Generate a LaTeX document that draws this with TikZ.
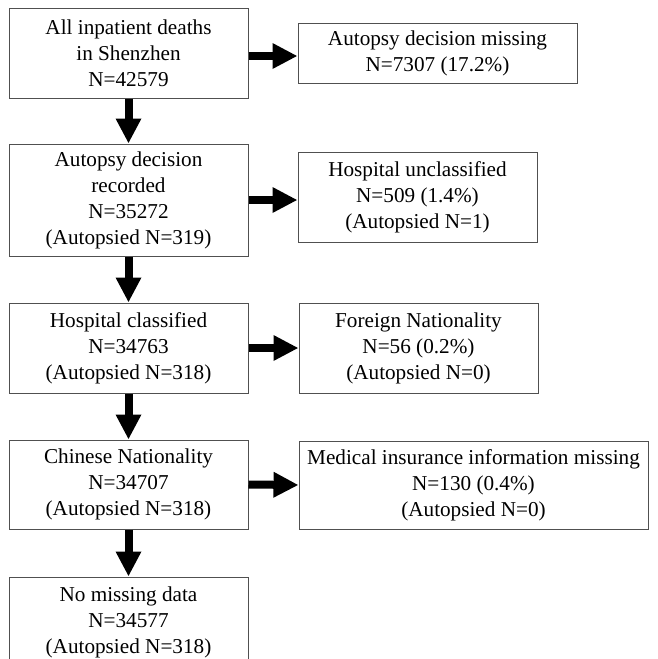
\documentclass[tikz,border=0pt]{standalone}
\usepackage{fontspec}
\setmainfont{Liberation Serif}
\usetikzlibrary{arrows.meta}
\definecolor{boxline}{RGB}{80,80,80}
\tikzset{
  box/.style={draw=boxline, line width=1pt, fill=white, inner sep=0pt, align=center,
    font=\fontsize{21.2}{26}\selectfont, minimum width=239pt, minimum height=90pt,
    execute at begin node={\rule{0pt}{21.5pt}}},
  fatarrow/.style={line width=8pt, -{Triangle[length=25pt,width=24pt]}}
}
\begin{document}
\begin{tikzpicture}[x=1pt,y=-1pt]
\useasboundingbox (0,0) rectangle (657,659);
\clip (0,0) rectangle (657,659);
\node[box] (b1) at (128.5,53) {All inpatient deaths\\in Shenzhen\\N=42579};
\node[box, minimum height=112pt] (b2) at (128.5,200) {Autopsy decision\\recorded\\N=35272\\(Autopsied N=319)};
\node[box] (b3) at (128.5,348) {Hospital classified\\N=34763\\(Autopsied N=318)};
\node[box, minimum height=89pt] (b4) at (128.5,484.5) {Chinese Nationality\\N=34707\\(Autopsied N=318)};
\node[box] (b5) at (128.5,622) {No missing data\\N=34577\\(Autopsied N=318)};
\node[box, minimum width=279pt, minimum height=60pt] (r1) at (437.5,53) {Autopsy decision missing\\N=7307 (17.2\%)};
\node[box] (r2) at (417.5,197) {Hospital unclassified\\N=509 (1.4\%)\\(Autopsied N=1)};
\node[box] (r3) at (418.5,348) {Foreign Nationality\\N=56 (0.2\%)\\(Autopsied N=0)};
\node[box, minimum width=349pt, minimum height=88pt] (r4) at (473.5,485) {Medical insurance information missing\\N=130 (0.4\%)\\(Autopsied N=0)};
\coordinate (a1) at ([yshift=-3pt]b1.east);
\draw[fatarrow] (a1) -- (a1 -| r1.west);
\coordinate (a2) at (b2.east);
\draw[fatarrow] (a2) -- (a2 -| r2.west);
\draw[fatarrow] (b3.east) -- (r3.west);
\draw[fatarrow] (b4.east) -- (r4.west);
\draw[fatarrow] (b1.south) -- (b2.north);
\draw[fatarrow] (b2.south) -- (b3.north);
\draw[fatarrow] (b3.south) -- (b4.north);
\draw[fatarrow] (b4.south) -- (b5.north);
\end{tikzpicture}
\end{document}
